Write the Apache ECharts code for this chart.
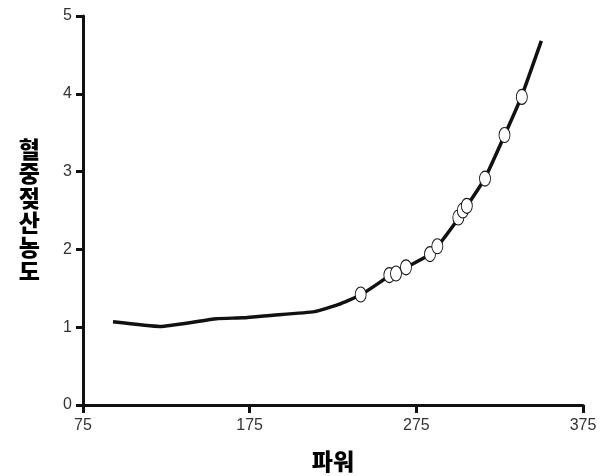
<!DOCTYPE html>
<html>
<head>
<meta charset="utf-8">
<script src="https://cdn.jsdelivr.net/npm/echarts@6/dist/echarts.min.js"></script>
<style>
html,body{margin:0;padding:0;background:#fff;}
#c{width:612px;height:476px;}
</style>
</head>
<body>
<div id="c"></div>
<script>
// Curve (power vs. blood lactate)
const curvePower = [93, 121, 155, 171, 187, 214, 228, 242, 259, 269, 284, 301, 316, 328, 338, 350];
const curveLactate = [1.07, 1.01, 1.11, 1.12, 1.15, 1.20, 1.29, 1.42, 1.66, 1.77, 1.95, 2.42, 2.91, 3.47, 3.96, 4.68];
// Measured points
const pointPower = [241.6, 258.8, 262.8, 268.8, 283.2, 287.6, 300.2, 302.9, 305.3, 316.2, 327.9, 338.3];
const pointLactate = [1.42, 1.67, 1.69, 1.77, 1.94, 2.04, 2.41, 2.50, 2.56, 2.91, 3.47, 3.96];
const xTicks = [75, 175, 275, 375];
const yTicks = [0, 1, 2, 3, 4, 5];
const xTitle = '파워';
const yTitle = '혈중젖산농도';

const chart = echarts.init(document.getElementById('c'));
const axisFont = 'Liberation Sans, Arial, sans-serif';
const cjkFont = 'Noto Sans CJK KR, sans-serif';
chart.setOption({
  animation: false,
  backgroundColor: '#fff',
  grid: {left: 83, right: 29, top: 16, bottom: 71, containLabel: false, outerBoundsMode: 'none'},
  xAxis: {
    type: 'value', min: xTicks[0], max: xTicks[xTicks.length - 1], interval: 100,
    name: xTitle, nameLocation: 'middle', nameGap: 45,
    nameTextStyle: {fontFamily: cjkFont, fontWeight: 900, fontSize: 23, color: '#000', verticalAlign: 'top'},
    axisLine: {show: true, onZero: false, lineStyle: {color: '#111', width: 3}},
    axisTick: {show: true, length: 8, lineStyle: {color: '#111', width: 3}},
    axisLabel: {fontFamily: axisFont, fontSize: 16, color: '#333', margin: 13},
    splitLine: {show: false}
  },
  yAxis: {
    type: 'value', min: yTicks[0], max: yTicks[yTicks.length - 1], interval: 1,
    name: yTitle.split('').join('\n'), nameLocation: 'middle', nameRotate: 0, nameGap: 43,
    nameTextStyle: {fontFamily: cjkFont, fontWeight: 900, fontSize: 23, lineHeight: 24.5, color: '#000', padding: [16, 0, 0, 0]},
    axisLine: {show: true, onZero: false, lineStyle: {color: '#111', width: 3}},
    axisTick: {show: true, length: 7, lineStyle: {color: '#111', width: 3}},
    axisLabel: {fontFamily: axisFont, fontSize: 16, color: '#333', margin: 11},
    splitLine: {show: false}
  },
  series: [
    {
      type: 'line', smooth: 0.15, symbol: 'none',
      data: curvePower.map((p, i) => [p, curveLactate[i]]),
      lineStyle: {color: '#111', width: 3.5},
      z: 2
    },
    {
      type: 'scatter', symbol: 'circle', symbolSize: [11, 15],
      data: pointPower.map((p, i) => [p, pointLactate[i]]),
      itemStyle: {color: '#fff', borderColor: '#111', borderWidth: 1, opacity: 1},
      z: 3
    }
  ]
});
</script>
</body>
</html>
